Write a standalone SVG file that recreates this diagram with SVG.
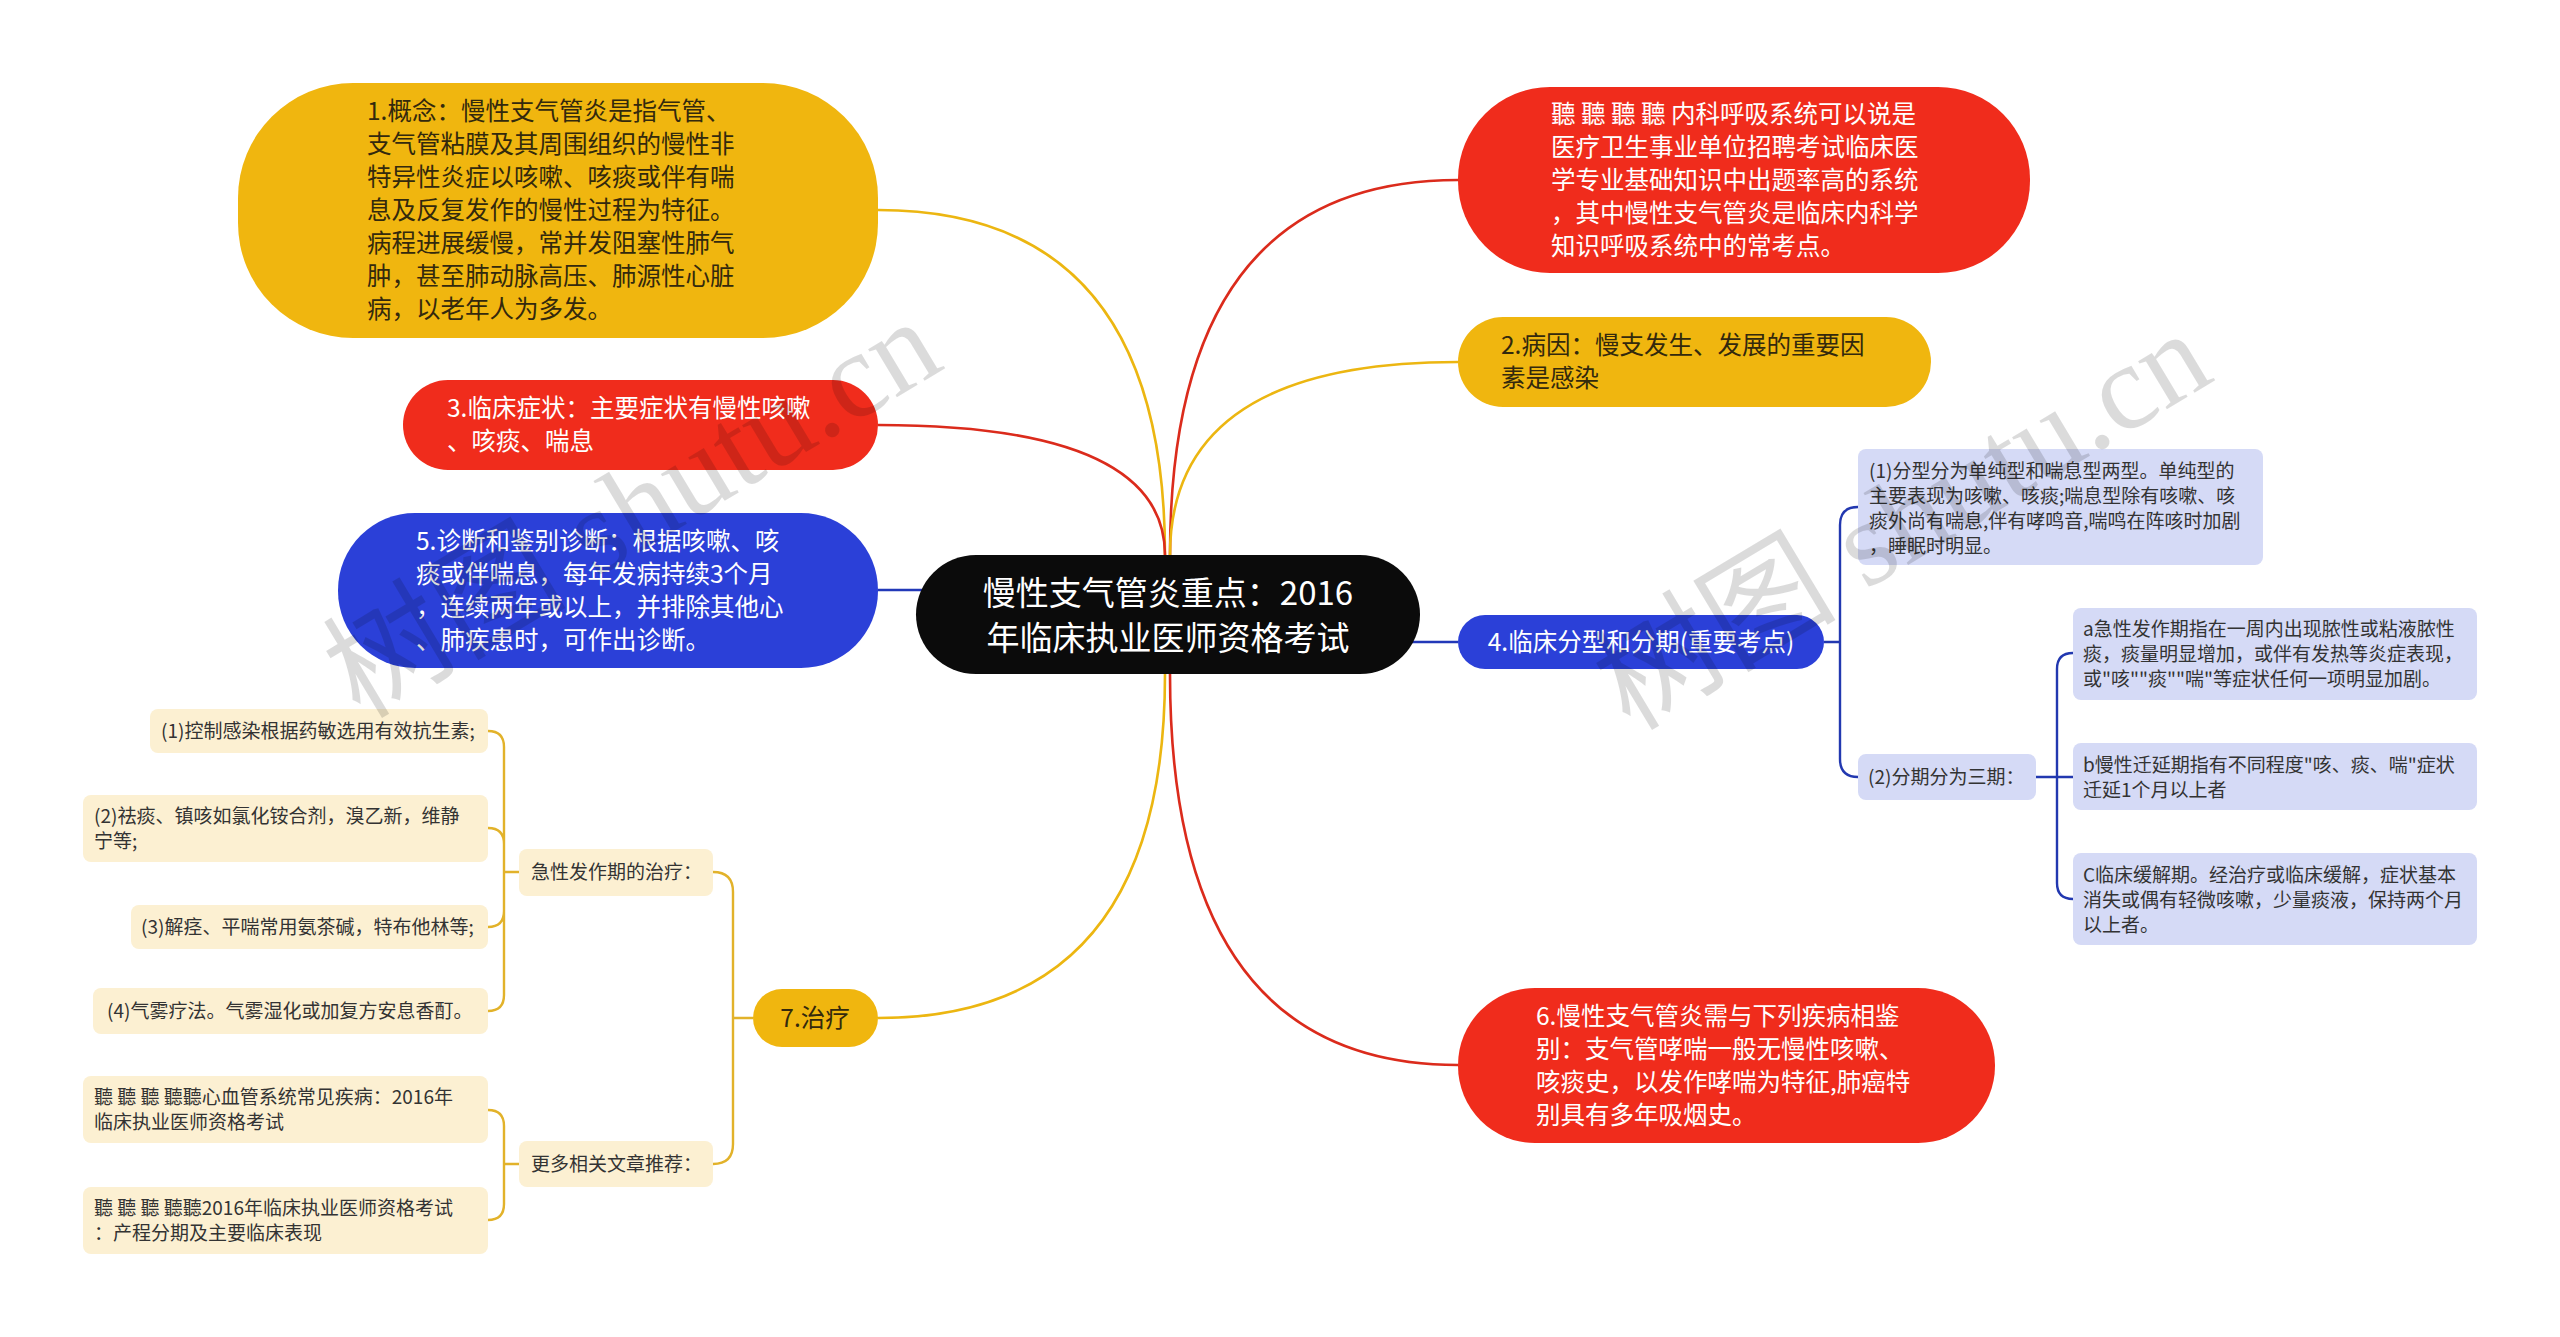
<svg xmlns="http://www.w3.org/2000/svg" width="2560" height="1337" viewBox="0 0 2560 1337">
<style>
text{font-family:"Noto Sans CJK SC","Noto Sans",sans-serif}
.b{font-size:24.5px}
.s{font-size:19px;fill:#333}
.c{font-size:33px;fill:#fff}
.w{fill:#fff}
.dk{fill:#33290d}
.ly{fill:#fcf0d2}
.lb{fill:#d5daf6}
.cy{fill:none;stroke:#ecb611;stroke-width:2.6}
.cr{fill:none;stroke:#db2b1c;stroke-width:2.6}
.cb{fill:none;stroke:#2238b8;stroke-width:2.6}
.ty{fill:none;stroke:#e2b22a;stroke-width:2.4}
.tb{fill:none;stroke:#2238b0;stroke-width:2.4}
.wm{font-family:"Liberation Serif",serif;font-size:122px;fill:#000;fill-opacity:0.14}
.wmc{font-family:"Noto Sans CJK SC",sans-serif;font-size:122px;fill:#000;fill-opacity:0.14}
</style>
<rect width="2560" height="1337" fill="#fff"/>
<g id="connectors">
<path class="cy" d="M878,210 Q1165,210 1165,555 L1165,614"/>
<path class="cr" d="M878,425 Q1165,425 1165,555 L1165,614"/>
<path class="cb" d="M878,590 L1000,590"/>
<path class="cy" d="M878,1018 Q1165,1018 1165,674 L1165,614"/>
<path class="cr" d="M1458,180 Q1170,180 1170,555 L1170,614"/>
<path class="cy" d="M1458,362 Q1170,362 1170,555 L1170,614"/>
<path class="cb" d="M1350,642 L1458,642"/>
<path class="cr" d="M1458,1065 Q1170,1065 1170,674 L1170,614"/>
<path class="ty" d="M713,872 Q733,872 733,892 V1144 Q733,1164 713,1164 M733,1018 H753"/>
<path class="ty" d="M519,872 H504 M488,731 Q504,731 504,747 V995 Q504,1011 488,1011 M504,844 Q504,828 488,828 M504,911 Q504,927 488,927"/>
<path class="ty" d="M519,1164 H504 M488,1110 Q504,1110 504,1126 V1204 Q504,1220 488,1220"/>
<path class="tb" d="M1824,642 H1840 M1858,507 Q1840,507 1840,525 V759 Q1840,777 1858,777"/>
<path class="tb" d="M2036,777 H2073 M2073,653 Q2057,653 2057,669 V883 Q2057,899 2073,899"/>
</g>
<g id="center">
<rect x="916" y="555" width="504" height="119" rx="60" fill="#0b0b0b"/>
<text class="c" x="1168" y="605" text-anchor="middle">慢性支气管炎重点：2016</text>
<text class="c" x="1168" y="650" text-anchor="middle">年临床执业医师资格考试</text>
</g>
<g id="n1">
<rect x="238" y="83" width="640" height="255" rx="115" fill="#f0b60f"/>
<text class="b dk" x="367" y="120">1.概念：慢性支气管炎是指气管、</text>
<text class="b dk" x="367" y="153">支气管粘膜及其周围组织的慢性非</text>
<text class="b dk" x="367" y="186">特异性炎症以咳嗽、咳痰或伴有喘</text>
<text class="b dk" x="367" y="219">息及反复发作的慢性过程为特征。</text>
<text class="b dk" x="367" y="252">病程进展缓慢，常并发阻塞性肺气</text>
<text class="b dk" x="367" y="285">肿，甚至肺动脉高压、肺源性心脏</text>
<text class="b dk" x="367" y="318">病，以老年人为多发。</text>
</g>
<g id="n3">
<rect x="403" y="380" width="475" height="90" rx="45" fill="#f02c1c"/>
<text class="b w" x="447" y="417">3.临床症状：主要症状有慢性咳嗽</text>
<text class="b w" x="447" y="450">、咳痰、喘息</text>
</g>
<g id="n5">
<rect x="338" y="513" width="540" height="155" rx="77" fill="#2b40d8"/>
<text class="b w" x="416" y="550">5.诊断和鉴别诊断：根据咳嗽、咳</text>
<text class="b w" x="416" y="583">痰或伴喘息，每年发病持续3个月</text>
<text class="b w" x="416" y="616">，连续两年或以上，并排除其他心</text>
<text class="b w" x="416" y="649">、肺疾患时，可作出诊断。</text>
</g>
<g id="n7">
<rect x="753" y="989" width="125" height="58" rx="29" fill="#f0b60f"/>
<text class="b dk" x="815" y="1027" text-anchor="middle">7.治疗</text>
</g>
<g id="t1">
<rect class="ly" x="519" y="849" width="194" height="47" rx="8"/>
<text class="s" x="531" y="879">急性发作期的治疗：</text>
</g>
<g id="t2">
<rect class="ly" x="519" y="1141" width="194" height="46" rx="8"/>
<text class="s" x="531" y="1171">更多相关文章推荐：</text>
</g>
<g id="l1">
<rect class="ly" x="150" y="709" width="338" height="44" rx="8"/>
<text class="s" x="161" y="738">(1)控制感染根据药敏选用有效抗生素;</text>
</g>
<g id="l2">
<rect class="ly" x="83" y="795" width="405" height="67" rx="8"/>
<text class="s" x="94" y="823">(2)祛痰、镇咳如氯化铵合剂，溴乙新，维静</text>
<text class="s" x="94" y="848">宁等;</text>
</g>
<g id="l3">
<rect class="ly" x="131" y="905" width="357" height="44" rx="8"/>
<text class="s" x="141" y="934">(3)解痉、平喘常用氨茶碱，特布他林等;</text>
</g>
<g id="l4">
<rect class="ly" x="93" y="988" width="395" height="46" rx="8"/>
<text class="s" x="107" y="1018">(4)气雾疗法。气雾湿化或加复方安息香酊。</text>
</g>
<g id="l5">
<rect class="ly" x="83" y="1076" width="405" height="67" rx="8"/>
<text class="s" x="94" y="1104">聽 聽 聽 聽聽心血管系统常见疾病：2016年</text>
<text class="s" x="94" y="1129">临床执业医师资格考试</text>
</g>
<g id="l6">
<rect class="ly" x="83" y="1187" width="405" height="67" rx="8"/>
<text class="s" x="94" y="1215">聽 聽 聽 聽聽2016年临床执业医师资格考试</text>
<text class="s" x="94" y="1240">：产程分期及主要临床表现</text>
</g>
<g id="nr">
<rect x="1458" y="87" width="572" height="186" rx="92" fill="#f02c1c"/>
<text class="b w" x="1551" y="123">聽 聽 聽 聽 内科呼吸系统可以说是</text>
<text class="b w" x="1551" y="156">医疗卫生事业单位招聘考试临床医</text>
<text class="b w" x="1551" y="189">学专业基础知识中出题率高的系统</text>
<text class="b w" x="1551" y="222">，其中慢性支气管炎是临床内科学</text>
<text class="b w" x="1551" y="255">知识呼吸系统中的常考点。</text>
</g>
<g id="n2">
<rect x="1458" y="317" width="473" height="90" rx="45" fill="#f0b60f"/>
<text class="b dk" x="1501" y="354">2.病因：慢支发生、发展的重要因</text>
<text class="b dk" x="1501" y="387">素是感染</text>
</g>
<g id="n4">
<rect x="1458" y="615" width="366" height="54" rx="27" fill="#2b40d8"/>
<text class="b w" x="1641" y="651" text-anchor="middle">4.临床分型和分期(重要考点)</text>
</g>
<g id="r1">
<rect class="lb" x="1858" y="449" width="405" height="116" rx="8"/>
<text class="s" x="1869" y="478">(1)分型分为单纯型和喘息型两型。单纯型的</text>
<text class="s" x="1869" y="503">主要表现为咳嗽、咳痰;喘息型除有咳嗽、咳</text>
<text class="s" x="1869" y="528">痰外尚有喘息,伴有哮鸣音,喘鸣在阵咳时加剧</text>
<text class="s" x="1869" y="553">，睡眠时明显。</text>
</g>
<g id="r2">
<rect class="lb" x="1858" y="754" width="178" height="46" rx="8"/>
<text class="s" x="1868" y="784">(2)分期分为三期：</text>
</g>
<g id="ra">
<rect class="lb" x="2073" y="608" width="404" height="92" rx="8"/>
<text class="s" x="2083" y="636">a急性发作期指在一周内出现脓性或粘液脓性</text>
<text class="s" x="2083" y="661">痰，痰量明显增加，或伴有发热等炎症表现，</text>
<text class="s" x="2083" y="686">或"咳""痰""喘"等症状任何一项明显加剧。</text>
</g>
<g id="rb">
<rect class="lb" x="2073" y="743" width="404" height="67" rx="8"/>
<text class="s" x="2083" y="772">b慢性迁延期指有不同程度"咳、痰、喘"症状</text>
<text class="s" x="2083" y="797">迁延1个月以上者</text>
</g>
<g id="rc">
<rect class="lb" x="2073" y="853" width="404" height="92" rx="8"/>
<text class="s" x="2083" y="882">C临床缓解期。经治疗或临床缓解，症状基本</text>
<text class="s" x="2083" y="907">消失或偶有轻微咳嗽，少量痰液，保持两个月</text>
<text class="s" x="2083" y="932">以上者。</text>
</g>
<g id="n6">
<rect x="1458" y="988" width="537" height="155" rx="77" fill="#f02c1c"/>
<text class="b w" x="1536" y="1025">6.慢性支气管炎需与下列疾病相鉴</text>
<text class="b w" x="1536" y="1058">别：支气管哮喘一般无慢性咳嗽、</text>
<text class="b w" x="1536" y="1091">咳痰史，以发作哮喘为特征,肺癌特</text>
<text class="b w" x="1536" y="1124">别具有多年吸烟史。</text>
</g>
<g id="watermarks">
<text class="wm" transform="translate(360,720) rotate(-31)"><tspan class="wmc">树图</tspan> shutu.cn</text>
<text class="wm" transform="translate(1630,732) rotate(-31)"><tspan class="wmc">树图</tspan> shutu.cn</text>
</g>
</svg>
